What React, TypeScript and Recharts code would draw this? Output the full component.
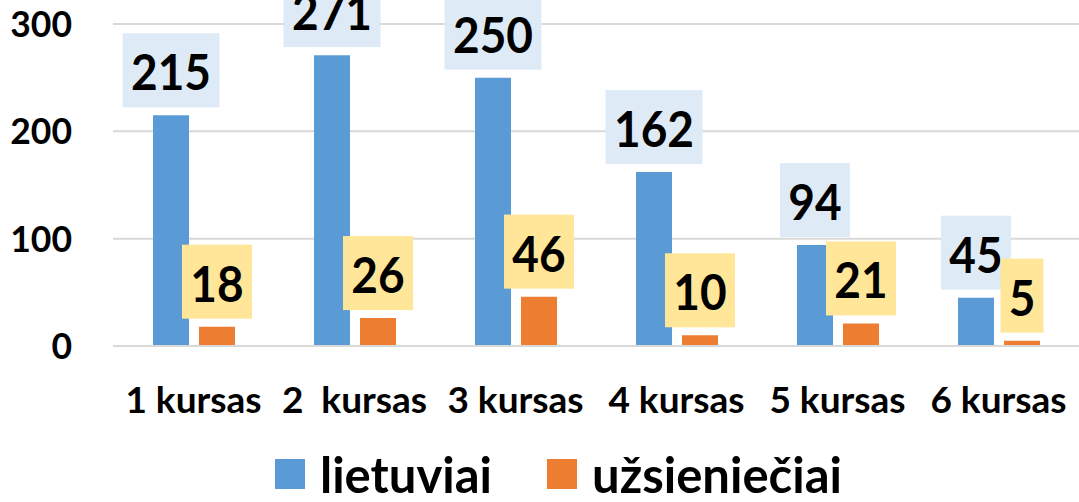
import { BarChart, Bar, XAxis, YAxis, CartesianGrid, Legend, LabelList } from "recharts";

const categories = ["1 kursas", "2  kursas", "3 kursas", "4 kursas", "5 kursas", "6 kursas"];
const lietuviai = [215, 271, 250, 162, 94, 45];
const uzsienieciai = [18, 26, 46, 10, 21, 5];
const yTicks = [0, 100, 200, 300];

const BLUE = "#5B9BD5";
const ORANGE = "#ED7D31";
const FONT = "Lato, 'Open Sans', sans-serif";

const data = categories.map((name, i) => ({
  name,
  lietuviai: lietuviai[i],
  uzsienieciai: uzsienieciai[i],
}));

type TickProps = { x?: number; y?: number; payload?: { value: string | number } };

function YTick({ y, payload }: TickProps) {
  return (
    <text x={72} y={(y ?? 0) + 13} textAnchor="end" fontFamily={FONT} fontWeight={700} fontSize={35.5} fill="#000">
      {payload?.value}
    </text>
  );
}

function XTick({ x, payload }: TickProps) {
  return (
    <text
      x={x}
      y={413}
      textAnchor="middle"
      fontFamily={FONT}
      fontWeight={700}
      fontSize={37}
      fill="#000"
      style={{ whiteSpace: "pre" }}
    >
      {payload?.value}
    </text>
  );
}

type LabelProps = { x?: number; y?: number; width?: number; value?: number | string };

// value box above each bar, box bottom sits 8px over the bar top
function boxLabel(fill: string) {
  return function BoxLabel({ x, y, width, value }: LabelProps) {
    const cx = Number(x) + Number(width) / 2;
    const top = Number(y);
    const n = String(value).length;
    const w = 27 * n + 16;
    return (
      <g>
        <rect x={cx - w / 2} y={top - 8 - 74} width={w} height={74} fill={fill} />
        <text
          transform={`translate(${cx},${top - 25}) scale(1,1.08)`}
          textAnchor="middle"
          fontFamily={FONT}
          fontWeight={700}
          fontSize={46}
          fill="#000"
        >
          {value}
        </text>
      </g>
    );
  };
}

function LegendContent() {
  const item = (color: string, label: string, gap: number) => (
    <span style={{ display: "flex", alignItems: "center", marginRight: gap }}>
      <span style={{ width: 30, height: 30, background: color, display: "inline-block", marginRight: 15 }} />
      <span style={{ fontFamily: FONT, fontWeight: 700, fontSize: 49, lineHeight: "56px", color: "#000" }}>{label}</span>
    </span>
  );
  return (
    <div style={{ display: "flex", alignItems: "center", paddingLeft: 275, height: 56 }}>
      {item(BLUE, "lietuviai", 55)}
      {item(ORANGE, "užsieniečiai", 0)}
    </div>
  );
}

export default function App() {
  return (
    <div style={{ position: "absolute", left: 0, top: 0, background: "#fff" }}>
      <BarChart
        width={1079}
        height={502}
        data={data}
        margin={{ top: 24, right: 0, left: 0, bottom: 0 }}
        barSize={36}
        barGap={10}
      >
        <CartesianGrid horizontal vertical={false} stroke="#D9D9D9" strokeWidth={2} />
        <XAxis
          dataKey="name"
          height={100}
          tick={<XTick />}
          tickLine={false}
          axisLine={{ stroke: "#D9D9D9", strokeWidth: 2 }}
          interval={0}
        />
        <YAxis
          width={113}
          domain={[0, 300]}
          ticks={yTicks}
          tick={<YTick />}
          tickLine={false}
          axisLine={false}
        />
        <Legend
          verticalAlign="bottom"
          height={56}
          content={() => <LegendContent />}
          wrapperStyle={{ left: 0, width: 1079, bottom: 0 }}
        />
        <Bar dataKey="lietuviai" fill={BLUE} isAnimationActive={false}>
          <LabelList dataKey="lietuviai" content={boxLabel("#DEEBF7")} />
        </Bar>
        <Bar dataKey="uzsienieciai" fill={ORANGE} isAnimationActive={false}>
          <LabelList dataKey="uzsienieciai" content={boxLabel("#FFE699")} />
        </Bar>
      </BarChart>
    </div>
  );
}
